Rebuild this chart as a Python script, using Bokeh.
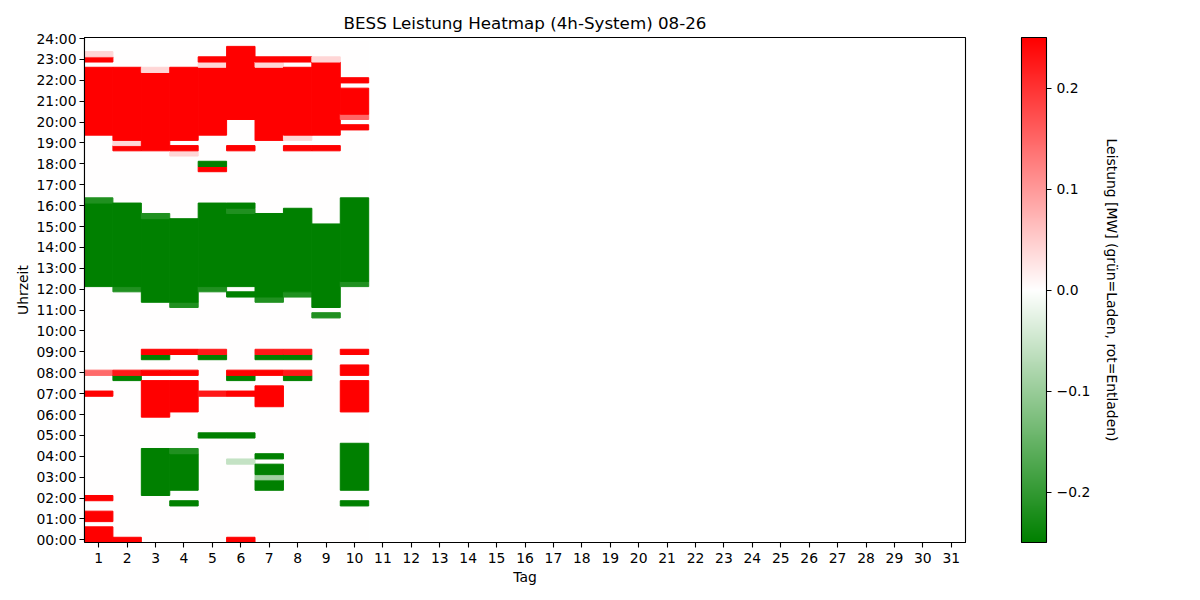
from bokeh.plotting import figure
from bokeh.models import (ColumnDataSource, LinearColorMapper, ColorBar, FixedTicker,
                          CustomJSTickFormatter, Title, Range1d)
from bokeh.embed import file_html
from bokeh.resources import INLINE

# ---------------- data ----------------
days = list(range(1, 32))
day_labels = [str(d) for d in days]
hour_ticks = list(range(25))
hour_labels = [f"{h:02d}:00" for h in hour_ticks]
cbar_ticks = [-0.2, -0.1, 0.0, 0.1, 0.2]
cbar_labels = ["\u22120.2", "\u22120.1", "0.0", "0.1", "0.2"]
days_with_data = 10
slots_per_day = 96  # quarter hours

# runs of equal power per day: (first quarter-hour slot, last slot, power in MW); 0 elsewhere
day01 = [(0, 2, 0.25), (4, 5, 0.25), (8, 8, 0.25), (28, 28, 0.25), (32, 32, 0.146),
         (49, 64, -0.25), (65, 65, -0.217), (78, 90, 0.25), (92, 92, 0.25), (93, 93, 0.04)]
day02 = [(0, 0, 0.25), (31, 31, -0.25), (32, 32, 0.225), (48, 48, -0.217), (49, 64, -0.25),
         (75, 75, 0.25), (76, 76, 0.04), (77, 90, 0.25)]
day03 = [(9, 17, -0.25), (24, 30, 0.25), (32, 32, 0.25), (35, 35, -0.25), (36, 36, 0.25),
         (46, 61, -0.25), (62, 62, -0.217), (75, 89, 0.25), (90, 90, 0.04)]
day04 = [(7, 7, -0.25), (10, 16, -0.25), (17, 17, -0.217), (25, 30, 0.25), (32, 32, 0.25),
         (36, 36, 0.25), (45, 45, -0.217), (46, 61, -0.25), (74, 74, 0.04), (75, 75, 0.25),
         (77, 90, 0.25)]
day05 = [(20, 20, -0.25), (28, 28, 0.225), (35, 35, -0.25), (36, 36, 0.225), (48, 48, -0.217),
         (49, 64, -0.25), (71, 71, 0.25), (72, 72, -0.25), (78, 90, 0.25), (91, 91, 0.04),
         (92, 92, 0.25)]
day06 = [(0, 0, 0.25), (15, 15, -0.057), (20, 20, -0.25), (28, 28, 0.25), (31, 31, -0.25),
         (32, 32, 0.25), (47, 47, -0.25), (49, 62, -0.25), (63, 63, -0.217), (64, 64, -0.25),
         (75, 75, 0.25), (81, 94, 0.25)]
day07 = [(10, 11, -0.25), (12, 12, -0.093), (13, 14, -0.25), (16, 16, -0.25), (26, 29, 0.25),
         (32, 32, 0.25), (35, 35, -0.25), (36, 36, 0.225), (46, 46, -0.217), (47, 62, -0.25),
         (77, 90, 0.25), (91, 91, 0.04), (92, 92, 0.25)]
day08 = [(31, 31, -0.25), (32, 32, 0.225), (35, 35, -0.25), (36, 36, 0.225), (47, 47, -0.217),
         (48, 63, -0.25), (75, 75, 0.25), (77, 77, 0.04), (78, 90, 0.25), (92, 92, 0.25)]
day09 = [(43, 43, -0.217), (45, 60, -0.25), (75, 75, 0.25), (78, 91, 0.25), (92, 92, 0.04)]
day10 = [(7, 7, -0.25), (10, 18, -0.25), (25, 30, 0.25), (32, 33, 0.25), (36, 36, 0.25),
         (49, 49, -0.217), (50, 65, -0.25), (79, 79, 0.25), (81, 81, 0.15), (82, 86, 0.25),
         (88, 88, 0.25)]
day_runs = [day01, day02, day03, day04, day05, day06, day07, day08, day09, day10]

# ---------------- build table (quarter-hour cells, merged per run) ----------------
L, R, B, T, P = [], [], [], [], []
def add_cells(d, a, b, v):
    L.append(d - 0.5); R.append(d + 0.5)
    B.append(a / 4.0 - 0.125); T.append(b / 4.0 + 0.125)
    P.append(v)
for d in days[:days_with_data]:                    # idle quarter hours first
    add_cells(d, 0, slots_per_day - 1, 0.0)
for d, runs in zip(days[:days_with_data], day_runs):
    for a, b, v in runs:
        add_cells(d, a, b, v)
src = ColumnDataSource(dict(left=L, right=R, bottom=B, top=T, power=P))

# green - white - red colormap (like LinearSegmentedColormap ['green','white','red'])
def _mix(c1, c2, f):
    return tuple(round(c1[i] + (c2[i] - c1[i]) * f) for i in range(3))
g, w, r = (0, 128, 0), (255, 255, 255), (255, 0, 0)
palette = []
for k in range(256):
    t = k / 255
    c = _mix(g, w, t / 0.5) if t < 0.5 else _mix(w, r, (t - 0.5) / 0.5)
    palette.append("#%02x%02x%02x" % c)
mapper = LinearColorMapper(palette=palette, low=-0.25, high=0.25)

FONT = "DejaVu Sans"
p = figure(frame_width=881, frame_height=505,
           x_range=Range1d(0.5, 31.5), y_range=Range1d(-0.125, 24.05),
           output_backend="svg", toolbar_location=None,
           min_border_left=84, min_border_top=37, min_border_bottom=10, min_border_right=10)
p.title.text = "BESS Leistung Heatmap (4h-System) 08-26"
p.title.align = "center"
p.title.text_font = FONT
p.title.text_font_size = "16.7px"
p.title.text_font_style = "normal"
p.title.text_color = "black"

p.quad(left="left", right="right", bottom="bottom", top="top", source=src,
       fill_color={"field": "power", "transform": mapper},
       line_color={"field": "power", "transform": mapper}, line_width=1)

p.xgrid.visible = False
p.ygrid.visible = False
p.outline_line_color = "black"
p.outline_line_width = 1.1

p.xaxis.ticker = FixedTicker(ticks=days)
p.xaxis.formatter = CustomJSTickFormatter(args=dict(labs=day_labels),
                                          code="return labs[Math.round(tick) - 1];")
p.yaxis.ticker = FixedTicker(ticks=hour_ticks)
p.yaxis.formatter = CustomJSTickFormatter(args=dict(labs=hour_labels),
                                          code="return labs[Math.round(tick)];")
p.xaxis.axis_label = "Tag"
p.yaxis.axis_label = "Uhrzeit"
for ax in (p.xaxis[0], p.yaxis[0]):
    ax.major_label_text_font = FONT
    ax.major_label_text_font_size = "13.9px"
    ax.major_label_text_color = "black"
    ax.axis_label_text_font = FONT
    ax.axis_label_text_font_size = "13.9px"
    ax.axis_label_text_font_style = "normal"
    ax.axis_label_text_color = "black"
    ax.major_tick_in = 0
    ax.major_tick_out = 5
    ax.major_tick_line_color = "black"
    ax.major_tick_line_width = 1.1
    ax.minor_tick_line_color = None
    ax.axis_line_color = "black"
    ax.axis_line_width = 1.1
    ax.major_label_standoff = 3
p.xaxis.major_label_standoff = 5
p.xaxis.axis_label_standoff = 3
p.yaxis.axis_label_standoff = 2

# invisible spacer between plot frame and colour bar
spacer = ColorBar(color_mapper=mapper, width=56, padding=0, scale_alpha=0,
                  ticker=FixedTicker(ticks=[]), label_standoff=0,
                  major_tick_in=0, major_tick_out=0, major_tick_line_color=None,
                  minor_tick_line_color=None, bar_line_color=None,
                  background_fill_alpha=0, border_line_color=None)
p.add_layout(spacer, "right")

cb = ColorBar(color_mapper=mapper, width=25, padding=0,
              ticker=FixedTicker(ticks=cbar_ticks),
              formatter=CustomJSTickFormatter(args=dict(cvals=cbar_ticks, clabs=cbar_labels),
                  code="let b=0; for (let i=0;i<cvals.length;i++){ if (Math.abs(cvals[i]-tick)<1e-9) b=i; } return clabs[b];"),
              major_label_text_font=FONT, major_label_text_font_size="13.9px",
              major_label_text_color="black", label_standoff=5,
              major_tick_in=0, major_tick_out=5, major_tick_line_color="black",
              major_tick_line_width=1.1, minor_tick_line_color=None,
              bar_line_color="black", bar_line_width=1.1,
              background_fill_alpha=0, border_line_color=None)
p.add_layout(cb, "right")
p.add_layout(Title(text="Leistung [MW] (gr\u00fcn=Laden, rot=Entladen)", align="center",
                   standoff=20,
                   text_font=FONT, text_font_size="13.9px", text_font_style="normal",
                   text_color="black"), "right")

open("out.html", "w").write(file_html(p, INLINE))
